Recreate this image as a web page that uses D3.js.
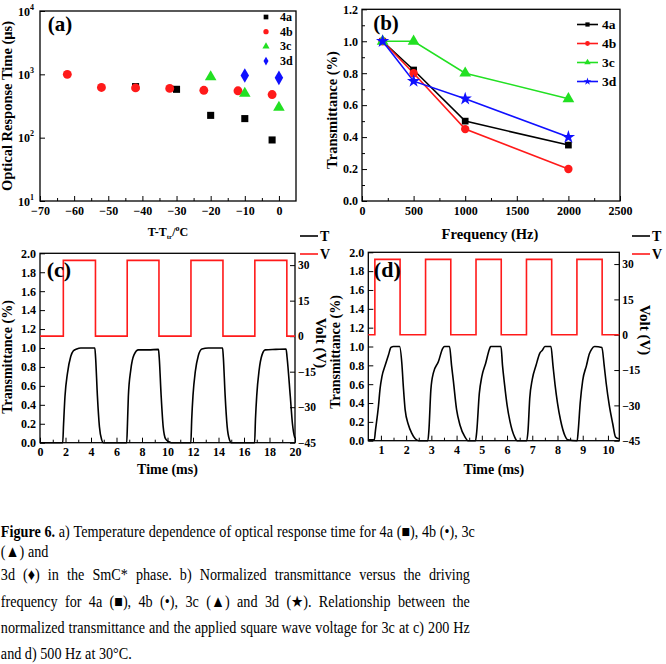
<!DOCTYPE html>
<html><head><meta charset="utf-8">
<script src="https://cdn.jsdelivr.net/npm/d3@7"></script>
<style>
body{margin:0;background:#fff;}
svg{display:block;font-family:"Liberation Serif","Times New Roman",serif;}
</style></head><body>
<svg id="fig" width="666" height="664"></svg>
<script>
// ---------- DATA ----------
// (a) optical response time vs T-Ttr
const aTemp4a = [-42, -30, -20, -10, -2];
const aTime4a = [640, 580, 225, 200, 92];
const aTemp4b = [-62, -52, -42, -32, -22, -12, -2];
const aTime4b = [1000, 620, 610, 600, 560, 550, 480];
const aTemp3c = [-20, -10, 0];
const aTime3c = [910, 500, 300];
const aTemp3d = [-10, 0];
const aTime3d = [960, 880];
const aXTicks = [-70, -60, -50, -40, -30, -20, -10, 0];
const aYTicks = [10, 100, 1000, 10000];
const aYExp = ["1", "2", "3", "4"];

// (b) transmittance vs frequency
const bFreq = [200, 500, 1000, 2000];
const b4a = [1.0, 0.82, 0.50, 0.35];
const b4b = [1.0, 0.80, 0.45, 0.20];
const b3c = [1.0, 1.0, 0.80, 0.64];
const b3d = [1.0, 0.75, 0.64, 0.40];
const bXTicks = [0, 500, 1000, 1500, 2000, 2500];
const bYTicks = [0, 0.2, 0.4, 0.6, 0.8, 1.0, 1.2];

// (c) 200 Hz
const cVoltT = [0, 1.83, 4.35, 6.84, 9.33, 11.84, 14.35, 16.85, 19.36, 20];
const cVoltV = [0, 32, 0, 32, 0, 32, 0, 32, 0, 0];
const cTransT = [0, 1.78, 1.85, 1.96, 2.15, 2.41, 2.62, 2.88, 3.2, 4.3, 4.36, 4.5, 4.66, 4.84, 4.97,
  6.8, 6.86, 6.93, 7.12, 7.38, 7.72, 8.5, 9.29, 9.35, 9.5, 9.66, 9.85, 10.1, 10.3,
  11.83, 11.9, 12.0, 12.18, 12.42, 12.7, 13.2, 14.32, 14.38, 14.52, 14.68, 14.86, 15.0,
  16.83, 16.9, 17.0, 17.18, 17.42, 17.67, 18.5, 19.3, 19.38, 19.63, 19.8, 19.97, 20];
const cTransY = [0, 0, 0.2, 0.49, 0.73, 0.91, 0.97, 0.99, 1.0, 1.0, 0.9, 0.5, 0.17, 0.03, 0,
  0, 0.2, 0.49, 0.77, 0.93, 0.98, 0.98, 0.985, 0.9, 0.5, 0.17, 0.04, 0.01, 0,
  0, 0.25, 0.5, 0.75, 0.92, 0.99, 1.0, 1.0, 0.9, 0.5, 0.17, 0.03, 0,
  0, 0.25, 0.5, 0.76, 0.93, 0.98, 0.985, 0.99, 0.9, 0.49, 0.2, 0.06, 0.05];
const cXTicks = [0, 2, 4, 6, 8, 10, 12, 14, 16, 18, 20];

// (d) 500 Hz
const dVoltT = [0.5, 0.76, 1.76, 2.77, 3.77, 4.77, 5.77, 6.77, 7.77, 8.77, 9.77, 10.45];
const dVoltV = [0, 32, 0, 32, 0, 32, 0, 32, 0, 32, 0, 0];
const dTransT = [0.5, 0.74, 0.78, 0.9, 0.97, 1.04, 1.17, 1.3, 1.4, 1.5, 1.74, 1.83, 1.89, 1.96, 2.09, 2.22, 2.36, 2.5, 2.86,
  2.9, 2.98, 3.08, 3.28, 3.45, 3.52, 3.72, 3.8, 3.87, 4.0, 4.13, 4.33, 4.45, 4.75,
  4.8, 4.9, 5.0, 5.15, 5.3, 5.35, 5.76, 5.82, 5.9, 6.0, 6.12, 6.3, 6.4, 6.78,
  6.83, 6.9, 7.0, 7.15, 7.3, 7.4, 7.5, 7.74, 7.82, 7.9, 8.0, 8.12, 8.3, 8.4, 8.78,
  8.82, 8.9, 9.0, 9.15, 9.26, 9.35, 9.47, 9.76, 9.85, 9.93, 10.05, 10.19, 10.3, 10.43];
const dTransY = [0.01, 0.01, 0.1, 0.36, 0.56, 0.68, 0.8, 0.91, 0.99, 1.0, 1.0, 0.82, 0.57, 0.33, 0.17, 0.08, 0.02, 0, 0,
  0.1, 0.54, 0.72, 0.84, 0.98, 1.0, 1.0, 0.8, 0.64, 0.33, 0.17, 0.04, 0, 0,
  0.1, 0.5, 0.68, 0.82, 0.97, 1.0, 1.0, 0.8, 0.6, 0.38, 0.2, 0.04, 0, 0,
  0.1, 0.45, 0.65, 0.8, 0.93, 0.96, 1.0, 1.0, 0.8, 0.6, 0.4, 0.22, 0.05, 0.01, 0,
  0.1, 0.4, 0.64, 0.8, 0.92, 0.97, 1.0, 0.99, 0.8, 0.61, 0.38, 0.18, 0.04, 0.02];
const dXTicks = [1, 2, 3, 4, 5, 6, 7, 8, 9, 10];
const tYTicks = [0, 0.2, 0.4, 0.6, 0.8, 1.0, 1.2, 1.4, 1.6, 1.8, 2.0];
const vTicks = [-45, -30, -15, 0, 15, 30];

const seriesNames = ["4a", "4b", "3c", "3d"];
const seriesColors = ["#000000", "#ff1a1a", "#22e022", "#1010ff"];

// caption (justified lines are true, last items are free lines)
const capLine1 = "Figure 6. a) Temperature dependence of optical response time for 4a (\u25A0), 4b (\u2022), 3c";
const capLine2 = "(\u25B2) and";
const capLine3 = "3d (\u2666) in the SmC* phase. b) Normalized transmittance versus the driving";
const capLine4 = "frequency for 4a (\u25A0), 4b (\u2022), 3c (\u25B2) and 3d (\u2605). Relationship between the";
const capLine5 = "normalized transmittance and the applied square wave voltage for 3c at c) 200 Hz";
const capLine6 = "and d) 500 Hz at 30\u00B0C.";

// ---------- DRAW ----------
const svg = d3.select("#fig");
const FONT = "'Liberation Serif','Times New Roman',serif";

function styleAxis(g, size) {
  g.select(".domain").remove();
  g.attr("font-family", FONT).attr("font-size", size).attr("font-weight", "bold");
  g.selectAll("line").attr("stroke", "#000").attr("stroke-width", 1);
}
function frame(x, y) {
  svg.append("rect")
    .attr("x", x.range()[0]).attr("y", Math.min(...y.range()))
    .attr("width", x.range()[1] - x.range()[0])
    .attr("height", Math.abs(y.range()[0] - y.range()[1]))
    .attr("fill", "none").attr("stroke", "#000").attr("stroke-width", 1.3);
}
function xAxis(x, y, ticks, fmt, minor, size) {
  const yy = y.range()[0];
  const g = svg.append("g").attr("transform", `translate(0,${yy})`)
    .call(d3.axisBottom(x).tickValues(ticks).tickSize(-5).tickPadding(5).tickFormat(fmt));
  styleAxis(g, size);
  if (minor) {
    const m = svg.append("g").attr("transform", `translate(0,${yy})`)
      .call(d3.axisBottom(x).tickValues(minor).tickSize(-3).tickFormat(""));
    styleAxis(m, size);
  }
}
function yAxisL(x, y, ticks, fmt, minor, size) {
  const xx = x.range()[0];
  const g = svg.append("g").attr("transform", `translate(${xx},0)`)
    .call(d3.axisLeft(y).tickValues(ticks).tickSize(-5).tickPadding(4).tickFormat(fmt));
  styleAxis(g, size);
  if (minor) {
    const m = svg.append("g").attr("transform", `translate(${xx},0)`)
      .call(d3.axisLeft(y).tickValues(minor).tickSize(-3).tickFormat(""));
    styleAxis(m, size);
  }
  return g;
}
function yAxisR(x, y, ticks, size) {
  const xx = x.range()[1];
  const g = svg.append("g").attr("transform", `translate(${xx},0)`)
    .call(d3.axisRight(y).tickValues(ticks).tickSize(-5).tickPadding(3).tickFormat(d3.format("d")));
  styleAxis(g, size);
}
function label(txt, x, y, size, rot) {
  const t = svg.append("text").attr("x", x).attr("y", y)
    .attr("font-family", FONT).attr("font-weight", "bold").attr("font-size", size)
    .attr("text-anchor", "middle").text(txt);
  if (rot) t.attr("transform", `rotate(${rot},${x},${y})`);
  return t;
}
function sym(type, size) { return d3.symbol().type(type).size(size)(); }

// ===== Panel (a) =====
{
  const x = d3.scaleLinear().domain([-70, 5]).range([40, 296]);
  const y = d3.scaleLog().domain([10, 10000]).range([201, 11]);
  xAxis(x, y, aXTicks, d3.format("d"), d3.range(-65, 5, 10), 12);
  const ya = yAxisL(x, y, aYTicks, () => "", null, 12);
  ya.selectAll(".tick").each(function (d, i) {
    const t = d3.select(this).append("text").attr("x", -6).attr("dy", "0.35em")
      .attr("text-anchor", "end").attr("fill", "#000");
    t.append("tspan").text("10");
    t.append("tspan").attr("font-size", 8).attr("dy", -6).text(aYExp[i]);
  });
  frame(x, y);
  const groups = [
    [aTemp4a, aTime4a, d3.symbolSquare, 50],
    [aTemp4b, aTime4b, d3.symbolCircle, 62],
    [aTemp3c, aTime3c, d3.symbolTriangle, 58],
    [aTemp3d, aTime3d, d3.symbolDiamond, 62]
  ];
  groups.forEach((gp, k) => {
    svg.append("g").selectAll("path").data(gp[0]).join("path")
      .attr("d", sym(gp[2], gp[3]))
      .attr("transform", (d, i) => `translate(${x(d)},${y(gp[1][i])})`)
      .attr("fill", seriesColors[k]);
  });
  seriesNames.forEach((n, k) => {
    const ly = 17 + k * 14.7;
    svg.append("path").attr("d", sym(groups[k][2], 22))
      .attr("transform", `translate(266,${ly})`).attr("fill", seriesColors[k]);
    svg.append("text").attr("x", 280).attr("y", ly + 4).attr("font-family", FONT)
      .attr("font-weight", "bold").attr("font-size", 12).text(n);
  });
  label("(a)", 60, 31, 21);
  label("Optical Response Time (\u03BCs)", 12, 106, 14.5, -90);
  const xl = svg.append("text").attr("x", 168).attr("y", 236).attr("font-family", FONT)
    .attr("font-weight", "bold").attr("font-size", 12).attr("text-anchor", "middle");
  xl.append("tspan").text("T-T");
  xl.append("tspan").attr("font-size", 7).attr("dy", 3).text("tr");
  xl.append("tspan").attr("dy", -3).text("/");
  xl.append("tspan").attr("font-size", 8).attr("dy", -5).text("o");
  xl.append("tspan").attr("dy", 5).text("C");
}

// ===== Panel (b) =====
{
  const x = d3.scaleLinear().domain([0, 2500]).range([362, 620]);
  const y = d3.scaleLinear().domain([0, 1.2]).range([201, 9.3]);
  xAxis(x, y, bXTicks, d3.format("d"), d3.range(250, 2500, 500), 12);
  yAxisL(x, y, bYTicks, d3.format(".1f"), d3.range(0.1, 1.2, 0.2), 12);
  frame(x, y);
  const series = [b4a, b4b, b3c, b3d];
  const types = [d3.symbolSquare, d3.symbolCircle, d3.symbolTriangle, d3.symbolStar];
  const sizes = [45, 55, 60, 55];
  const line = d3.line().x((d, i) => x(bFreq[i])).y(d => y(d));
  series.forEach((s, k) => {
    svg.append("path").datum(s).attr("d", line).attr("fill", "none")
      .attr("stroke", seriesColors[k]).attr("stroke-width", 1.6);
  });
  series.forEach((s, k) => {
    svg.append("g").selectAll("path").data(s).join("path")
      .attr("d", sym(types[k], sizes[k]))
      .attr("transform", (d, i) => `translate(${x(bFreq[i])},${y(d)})`)
      .attr("fill", seriesColors[k]);
  });
  seriesNames.forEach((n, k) => {
    const ly = 24.5 + k * 19;
    svg.append("line").attr("x1", 577).attr("x2", 598).attr("y1", ly).attr("y2", ly)
      .attr("stroke", seriesColors[k]).attr("stroke-width", 1.6);
    svg.append("path").attr("d", sym(types[k], 18))
      .attr("transform", `translate(587.5,${ly})`).attr("fill", seriesColors[k]);
    svg.append("text").attr("x", 602).attr("y", ly + 4.5).attr("font-family", FONT)
      .attr("font-weight", "bold").attr("font-size", 13.5).text(n);
  });
  label("(b)", 386, 30, 21);
  label("Transmittance (%)", 337, 110, 14.5, -90);
  label("Frequency (Hz)", 490, 239, 14.5);
}

// ===== Panels (c) and (d) =====
function wavePanel(cfg) {
  const x = d3.scaleLinear().domain(cfg.xd).range(cfg.xr);
  const y = d3.scaleLinear().domain([0, 2]).range(cfg.yr);
  const yv = d3.scaleLinear().domain([-45, 35]).range(cfg.yr);
  xAxis(x, y, cfg.xt, d3.format("d"), cfg.xm, 12);
  yAxisL(x, y, tYTicks, d3.format(".1f"), null, 12);
  yAxisR(x, yv, vTicks, 11.5);
  frame(x, y);
  const vline = d3.line().curve(d3.curveStepAfter)
    .x((d, i) => x(cfg.vt[i])).y(d => yv(d));
  svg.append("path").datum(cfg.vv).attr("d", vline).attr("fill", "none")
    .attr("stroke", "#ff1a1a").attr("stroke-width", 1.6);
  const tline = d3.line().curve(d3.curveMonotoneX)
    .x((d, i) => x(cfg.tt[i])).y(d => y(d));
  svg.append("path").datum(cfg.ty).attr("d", tline).attr("fill", "none")
    .attr("stroke", "#000").attr("stroke-width", 1.6);
  label(cfg.tag, cfg.xr[0] + 19, 277, 22);
  label("Transmittance (%)", cfg.ylx, cfg.yly, 14, -90);
  label("Volt (V)", cfg.vlx, cfg.vly, 15, 90);
  label("Time (ms)", (cfg.xr[0] + cfg.xr[1]) / 2, 474, 14);
  [["T", "#000", 236], ["V", "#ff1a1a", 254]].forEach(l => {
    svg.append("line").attr("x1", cfg.lx).attr("x2", cfg.lx + 18).attr("y1", l[2]).attr("y2", l[2])
      .attr("stroke", l[1]).attr("stroke-width", 1.6);
    svg.append("text").attr("x", cfg.lx + 20).attr("y", l[2] + 5).attr("font-family", FONT)
      .attr("font-weight", "bold").attr("font-size", 14).text(l[0]);
  });
}
wavePanel({xd: [0, 20], xr: [40, 295], yr: [442.7, 253.3], xt: cXTicks, xm: d3.range(1, 20, 2),
  vt: cVoltT, vv: cVoltV, tt: cTransT, ty: cTransY, tag: "(c)",
  ylx: 12, yly: 357, vlx: 316, vly: 343, lx: 300});
wavePanel({xd: [0.5, 10.45], xr: [368.3, 619.3], yr: [440.7, 252.3], xt: dXTicks, xm: d3.range(1.5, 10.5, 1),
  vt: dVoltT, vv: dVoltV, tt: dTransT, ty: dTransY, tag: "(d)",
  ylx: 340, yly: 352, vlx: 640, vly: 330, lx: 632});

// ===== Caption =====
{
  const sx = 0.86, fs = 16.5;
  const cap = svg.append("g").attr("transform", `scale(${sx},1)`)
    .attr("font-family", FONT).attr("font-size", fs).attr("fill", "#000");
  function measure(words) {
    return words.map(w => {
      const n = cap.append("text").attr("font-weight", w.b ? "bold" : "normal").text(w.t);
      const l = n.node().getComputedTextLength();
      n.remove();
      return l;
    });
  }
  function putLine(str, y, width, boldCount) {
    const words = str.split(" ").map((t, i) => ({t, b: i < (boldCount || 0)}));
    const ws = measure(words);
    const sp = measure([{t: "a a"}])[0] - 2 * measure([{t: "a"}])[0];
    const gap = width ? (width / sx - d3.sum(ws)) / (words.length - 1) : sp;
    let xx = 1;
    words.forEach((w, i) => {
      cap.append("text").attr("x", xx).attr("y", y)
        .attr("font-weight", w.b ? "bold" : "normal").text(w.t);
      xx += ws[i] + gap;
    });
  }
  putLine(capLine1, 537, 474, 2);
  putLine(capLine2, 557, 0);
  putLine(capLine3, 580, 469);
  putLine(capLine4, 607, 469);
  putLine(capLine5, 633, 469);
  putLine(capLine6, 659, 0);
}
</script>
</body></html>
